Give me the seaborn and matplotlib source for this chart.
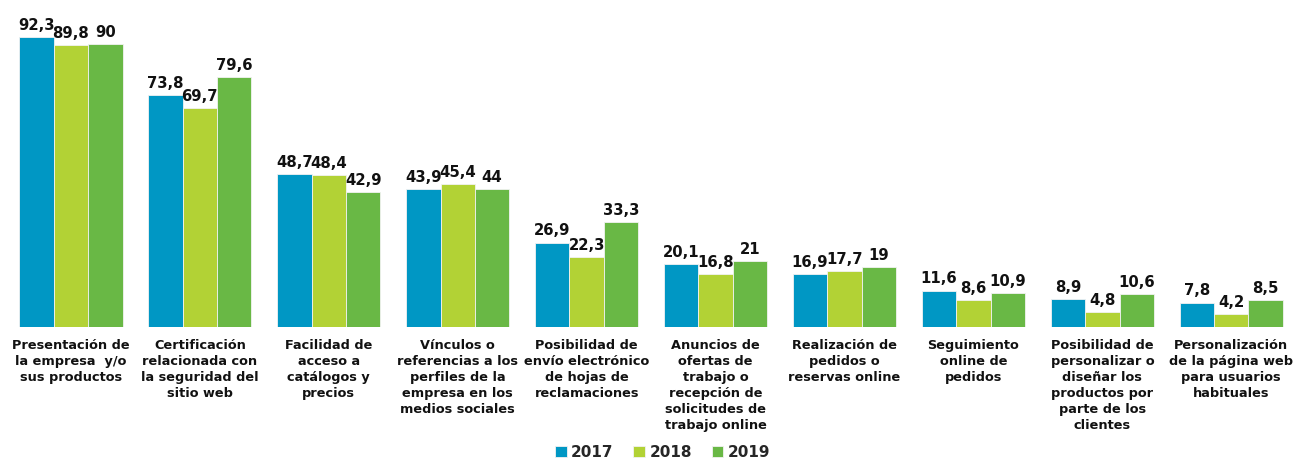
import pandas as pd
import matplotlib
matplotlib.use("Agg")
import matplotlib.pyplot as plt
import seaborn as sns

categories = [
    "Presentación de\nla empresa  y/o\nsus productos",
    "Certificación\nrelacionada con\nla seguridad del\nsitio web",
    "Facilidad de\nacceso a\ncatálogos y\nprecios",
    "Vínculos o\nreferencias a los\nperfiles de la\nempresa en los\nmedios sociales",
    "Posibilidad de\nenvío electrónico\nde hojas de\nreclamaciones",
    "Anuncios de\nofertas de\ntrabajo o\nrecepción de\nsolicitudes de\ntrabajo online",
    "Realización de\npedidos o\nreservas online",
    "Seguimiento\nonline de\npedidos",
    "Posibilidad de\npersonalizar o\ndiseñar los\nproductos por\nparte de los\nclientes",
    "Personalización\nde la página web\npara usuarios\nhabituales",
]
years = ["2017", "2018", "2019"]
v2017 = [92.3, 73.8, 48.7, 43.9, 26.9, 20.1, 16.9, 11.6, 8.9, 7.8]
v2018 = [89.8, 69.7, 48.4, 45.4, 22.3, 16.8, 17.7, 8.6, 4.8, 4.2]
v2019 = [90, 79.6, 42.9, 44, 33.3, 21, 19, 10.9, 10.6, 8.5]
colors = ["#0097C4", "#B2D235", "#69B845"]

rows = []
for year, vals in zip(years, [v2017, v2018, v2019]):
    for cat, v in zip(categories, vals):
        rows.append({"cat": cat, "year": year, "value": v})
df = pd.DataFrame(rows)

sns.set_style("white")
plt.rcParams["font.family"] = ["DejaVu Sans"]

fig = plt.figure(figsize=(12.97, 4.59), dpi=100)
ax = fig.add_axes([0.005, 0.2876, 0.994, 0.684])

sns.barplot(data=df, x="cat", y="value", hue="year", palette=colors,
            saturation=1, width=0.8, edgecolor="#f2f2f2", linewidth=0.6, ax=ax)

def fmt(v):
    s = f"{v:.1f}".replace(".", ",")
    return s[:-2] if s.endswith(",0") else s

for cont in ax.containers:
    ax.bar_label(cont, labels=[fmt(b.get_height()) for b in cont],
                 padding=3, fontsize=10.7, fontweight="bold", color="#111111")

ax.set_ylim(0, 100)
ax.set_xlim(-0.5, 9.5)
ax.set_xlabel("")
ax.set_ylabel("")
ax.set_yticks([])
ax.tick_params(axis="x", length=0, pad=9)
for lab in ax.get_xticklabels():
    lab.set_fontsize(9.3)
    lab.set_fontweight("bold")
    lab.set_color("#111111")
    lab.set_linespacing(1.3)
sns.despine(ax=ax, left=True, bottom=True)

handles, labels = ax.get_legend_handles_labels()
ax.legend_.remove()
fig.legend(handles, labels, loc="lower center", bbox_to_anchor=(0.511, -0.032),
           ncol=3, frameon=False, handlelength=0.75, handleheight=0.75,
           handletextpad=0.3, columnspacing=1.3,
           prop={"weight": "bold", "size": 11})

fig.savefig("out.png", dpi=100)
